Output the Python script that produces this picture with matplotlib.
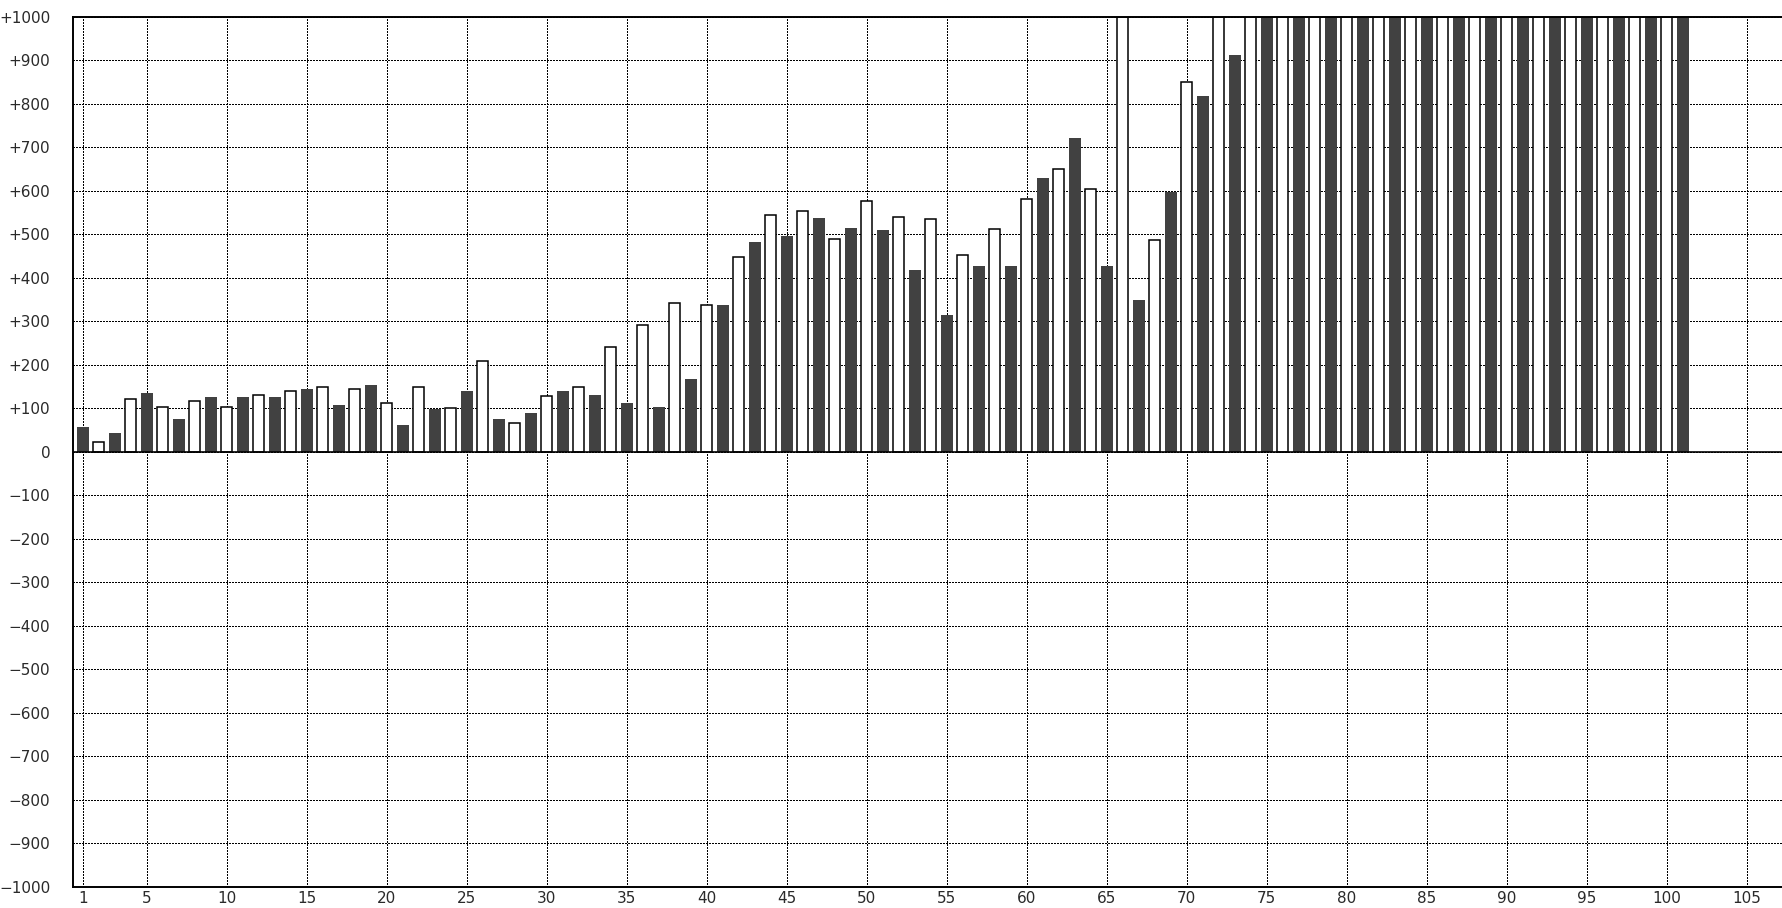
import numpy as np
import matplotlib.pyplot as plt
from matplotlib.ticker import FixedLocator, FuncFormatter

# odd positions are the dark bars, even positions the open bars
# (bars that run off the top of the chart are entered as 1000)
odd_pos = list(range(1, 102, 2))
odd_vals = [57, 43, 135, 75, 126, 126, 126, 145, 108, 154,
            62, 98, 140, 75, 89, 140, 131, 112, 103, 168,
            338, 482, 495, 537, 514, 509, 417, 315, 426, 426,
            629, 722, 426, 348, 597, 818, 911, 1000, 1000, 1000,
            1000, 1000, 1000, 1000, 1000, 1000, 1000, 1000, 1000, 1000,
            1000]

even_pos = list(range(2, 101, 2))
even_vals = [23, 121, 102, 116, 102, 130, 139, 148, 143, 111,
             148, 101, 208, 65, 129, 148, 240, 291, 342, 337,
             448, 545, 554, 489, 577, 540, 535, 452, 512, 582,
             651, 605, 1000, 486, 849, 1000, 1000, 1000, 1000, 1000,
             1000, 1000, 1000, 1000, 1000, 1000, 1000, 1000, 1000, 1000]

x_ticks = [1, 5, 10, 15, 20, 25, 30, 35, 40, 45, 50, 55,
           60, 65, 70, 75, 80, 85, 90, 95, 100, 105]
y_ticks = list(range(-1000, 1001, 100))

fig = plt.figure(figsize=(17.82, 9.08), dpi=100)
ax = fig.add_axes([72.7 / 1782, 21.3 / 908, 1 - 72.7 / 1782, 870 / 908])

ax.bar(odd_pos, odd_vals, width=0.75, color='#414141', linewidth=0, zorder=2)
ax.bar(even_pos, even_vals, width=0.7, facecolor='white', edgecolor='black',
       linewidth=1.1, zorder=2)
ax.axhline(0, color='black', linewidth=1.2, zorder=3)

ax.set_xlim(0.375, 107.2)
ax.set_ylim(-1000, 1000)

ax.xaxis.set_major_locator(FixedLocator(x_ticks))
ax.yaxis.set_major_locator(FixedLocator(y_ticks))


def fmt_y(v, pos):
    if v > 0:
        return '+%d' % v
    if v < 0:
        return '\u2212%d' % abs(v)
    return '0'


ax.yaxis.set_major_formatter(FuncFormatter(fmt_y))
ax.grid(True, color='black', linestyle=(0, (1, 1.1)), linewidth=1.0, zorder=0)
for gl in ax.get_xgridlines() + ax.get_ygridlines():
    gl.set_antialiased(False)
ax.set_axisbelow(True)

ax.tick_params(axis='both', length=0, labelsize=11, labelcolor='#2a2a2a')
ax.tick_params(axis='y', pad=16)
ax.tick_params(axis='x', pad=3)

for side in ['left', 'bottom', 'top']:
    ax.spines[side].set_linewidth(1.4)
ax.spines['right'].set_visible(False)

fig.savefig('out.png', dpi=100)
